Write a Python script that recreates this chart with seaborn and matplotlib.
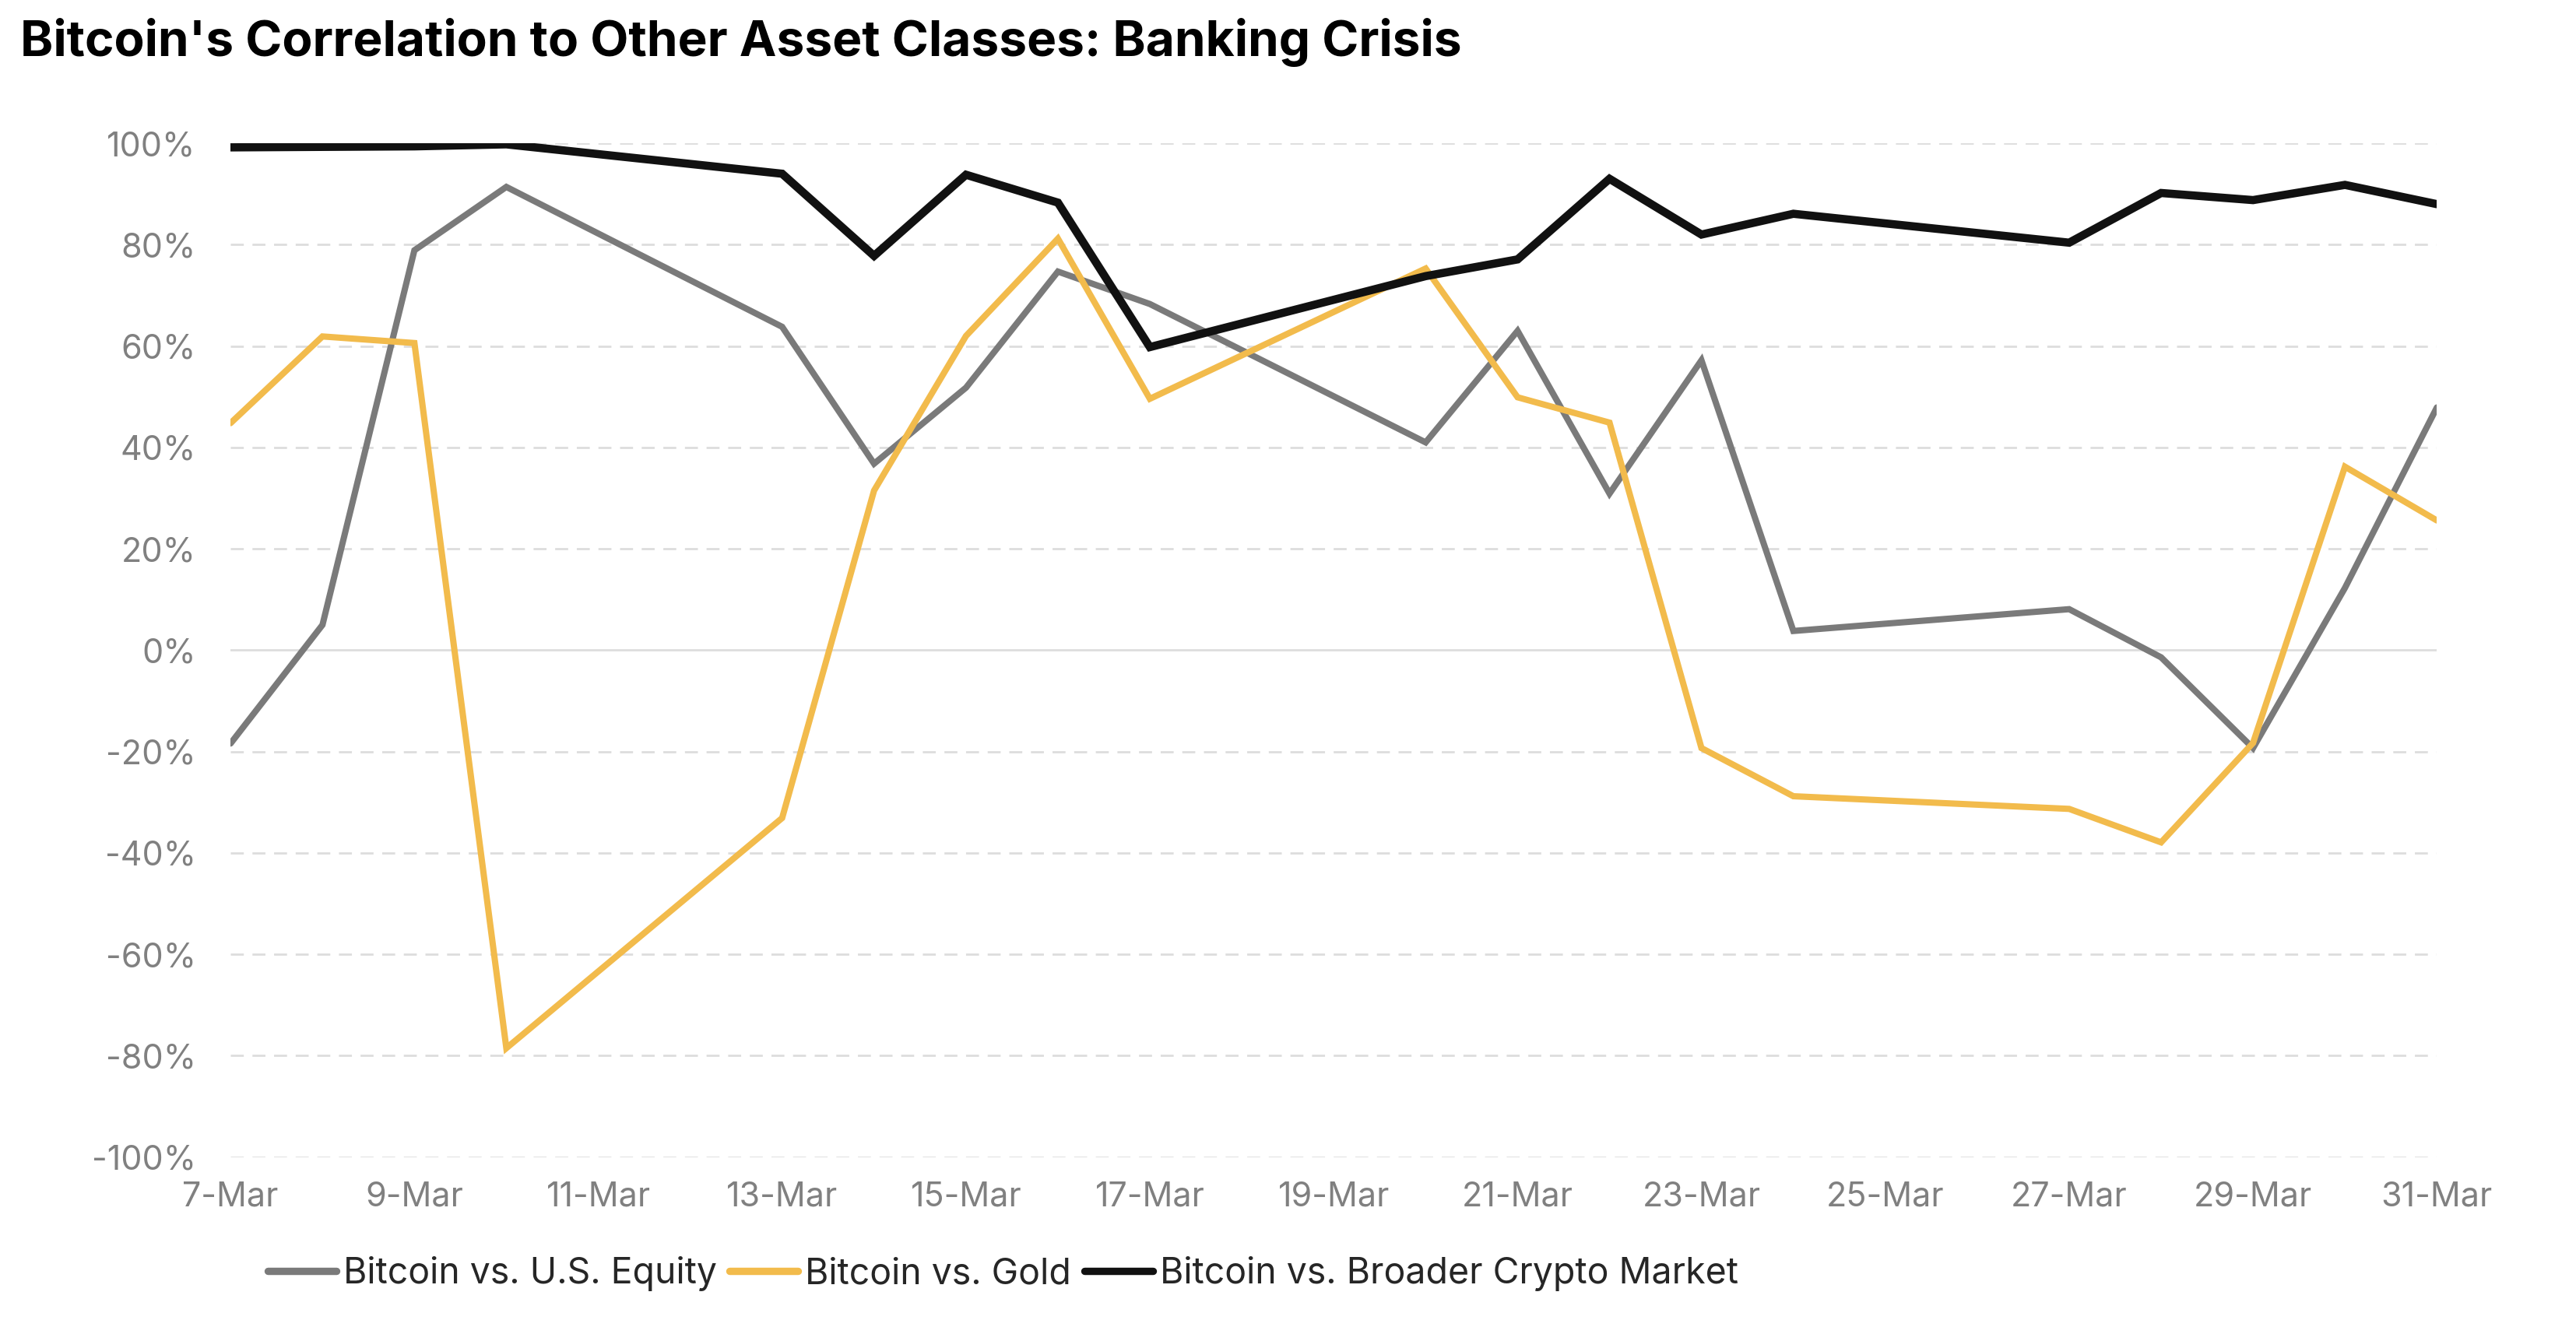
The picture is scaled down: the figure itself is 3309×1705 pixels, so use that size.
import pandas as pd
import numpy as np
import matplotlib
matplotlib.use("Agg")
import matplotlib.pyplot as plt
import matplotlib.dates as mdates
import seaborn as sns

# trading days in March 2023
days = [7, 8, 9, 10, 13, 14, 15, 16, 17, 20, 21, 22, 23, 24, 27, 28, 29, 30, 31]

equity = [-18.4, 5.0, 78.9, 91.4, 63.8, 36.8, 51.8, 74.7, 68.3, 41.0, 63.0, 30.9, 57.2, 3.8, 8.1, -1.4, -19.3, 12.3, 47.9]
gold = [44.8, 61.9, 60.6, -78.5, -33.1, 31.5, 62.0, 81.2, 49.6, 75.3, 49.9, 44.9, -19.3, -28.8, -31.3, -37.9, -18.3, 36.2, 25.6]
crypto = [99.2, 99.3, 99.4, 99.8, 94.0, 77.8, 93.8, 88.3, 59.8, 73.8, 77.1, 93.0, 82.0, 86.1, 80.4, 90.2, 88.8, 91.8, 88.0]

series_names = ["Bitcoin vs. U.S. Equity", "Bitcoin vs. Gold", "Bitcoin vs. Broader Crypto Market"]
colors = ["#7a7a7a", "#f2bb4c", "#111111"]
widths = [2.9, 2.9, 3.8]

dates = pd.to_datetime(["2023-03-%02d" % d for d in days])
df = pd.DataFrame({"date": dates, series_names[0]: equity, series_names[1]: gold, series_names[2]: crypto})
df = df.melt(id_vars="date", var_name="series", value_name="corr")
df["corr"] = df["corr"] / 100

sns.set_style("white")
plt.rcParams["font.family"] = ["Inter", "DejaVu Sans"]

fig = plt.figure(figsize=(16.545, 8.525), dpi=200)
ax = fig.add_axes([0.0895, 0.128, 0.8565, 0.764])

sns.lineplot(data=df, x="date", y="corr", hue="series", hue_order=series_names,
             palette=colors, ax=ax, legend=False)
for line, w in zip(ax.get_lines(), widths):
    line.set_linewidth(w)
    line.set_solid_joinstyle("miter")

ax.set_xlim(pd.Timestamp("2023-03-07"), pd.Timestamp("2023-03-31"))
ax.set_ylim(-1, 1)
ax.set_yticks(np.arange(-1, 1.01, 0.2))
ax.yaxis.set_major_formatter(matplotlib.ticker.FuncFormatter(lambda v, p: "%d%%" % round(v * 100)))
ax.xaxis.set_major_locator(mdates.DayLocator(bymonthday=range(7, 32, 2)))
ax.xaxis.set_major_formatter(mdates.DateFormatter("%-d-%b"))

for v in np.arange(-1, 1.01, 0.2):
    if abs(v) < 1e-9:
        ax.axhline(v, color="#dddddd", lw=1.0, zorder=0)
    else:
        ax.axhline(v, color="#dddddd", lw=1.0, ls=(0, (6, 4)), zorder=0)

for s in ax.spines.values():
    s.set_visible(False)
ax.tick_params(axis="both", length=0, labelsize=15.5, labelcolor="#808080")
ax.tick_params(axis="y", pad=16)
ax.tick_params(axis="x", pad=11)
ax.set_xlabel("")
ax.set_ylabel("")

handles = [plt.Line2D([], [], color=c, lw=3.4, solid_capstyle="round") for c in colors]
fig.legend(handles, series_names, loc="center left", bbox_to_anchor=(0.094, 0.04),
           ncol=3, frameon=False, fontsize=16.7, handlelength=1.9, handletextpad=0.2,
           columnspacing=0.35, borderpad=0.2)

fig.text(0.008, 0.968, "Bitcoin's Correlation to Other Asset Classes: Banking Crisis",
         fontsize=23, fontweight="bold", color="black", ha="left", va="center")

fig.savefig("out.png", dpi=200)
